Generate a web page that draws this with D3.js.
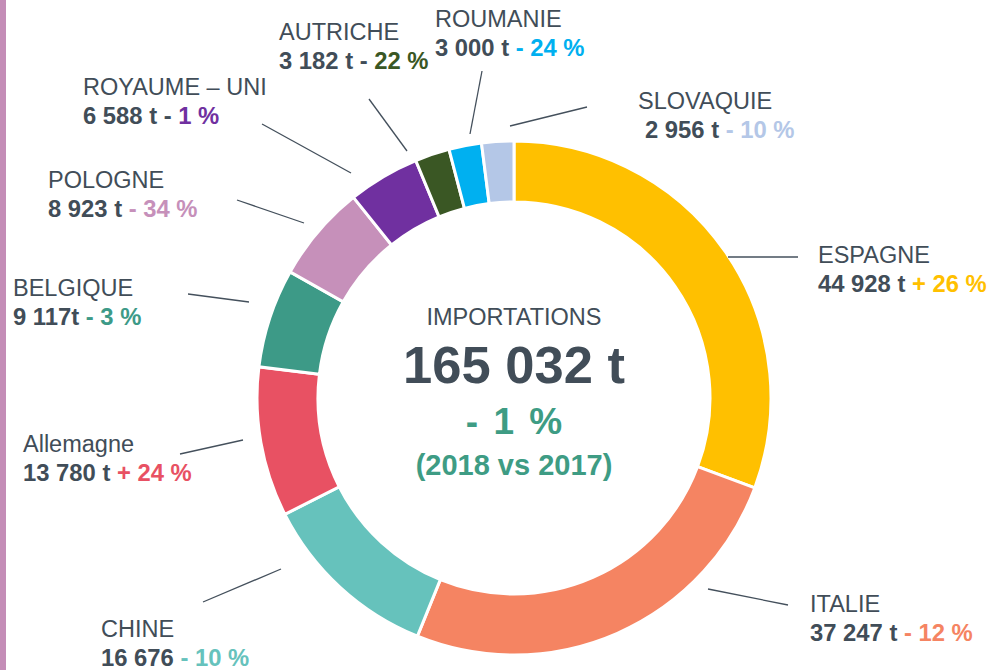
<!DOCTYPE html>
<html>
<head>
<meta charset="utf-8">
<script src="https://cdn.jsdelivr.net/npm/d3@7"></script>
<style>
  body { margin: 0; background: #fff; }
  svg { display: block; font-family: "Liberation Sans", Arial, sans-serif; }
</style>
</head>
<body>
<div id="chart"></div>
<script>
// données
const pays = ['ESPAGNE', 'ITALIE', 'CHINE', 'Allemagne', 'BELGIQUE', 'POLOGNE', 'ROYAUME – UNI', 'AUTRICHE', 'ROUMANIE', 'SLOVAQUIE'];
const tonnes = [44928, 37247, 16676, 13780, 9117, 8923, 6588, 3182, 3000, 2956];
const unites = [' t', ' t', '', ' t', 't', ' t', ' t', ' t', ' t', ' t'];
const evolutions = [26, -12, -10, 24, -3, -34, -1, -22, -24, -10];
const couleurs = ['#FFC000', '#F58462', '#66C2BC', '#E85163', '#3D9A87', '#C690BA', '#7030A0', '#3A5724', '#00B0F0', '#B4C7E7'];
const total = '165 032 t';
const totalEvol = '- 1 %';
const periode = '(2018 vs 2017)';

// placement des étiquettes : [x, y ligne nom, trait x1, y1, x2, y2, signe foncé]
const placement = [
  [818, 263, 728, 257, 798, 257, false],
  [810, 612, 708, 589, 788, 605, false],
  [101, 637, 203, 602, 281, 569, false],
  [23, 452, 180, 454, 243, 440, false],
  [13, 296, 188, 294, 249, 302, false],
  [48, 188, 237, 200, 304, 223, false],
  [83, 95, 262, 124, 351, 173, true],
  [279, 40, 369, 99, 407, 151, true],
  [435, 27, 482, 71, 470, 134, false],
  [638, 109, 587, 107, 510, 126, false]
];

const width = 990, height = 670;
const [cx, cy] = [514, 398];
const rOut = 257, rIn = 196;
const dark = '#414D58';

const fmt = d3.formatLocale({ decimal: ',', thousands: ' ', grouping: [3], currency: ['', ' €'] }).format(',d');

const svg = d3.select('#chart').append('svg')
  .attr('width', width)
  .attr('height', height);

// barre latérale
svg.append('rect')
  .attr('x', 0).attr('y', 0)
  .attr('width', 6).attr('height', height)
  .attr('fill', '#C48DB7');

const data = pays.map((p, i) => ({ nom: p, val: tonnes[i], unite: unites[i], evol: evolutions[i], col: couleurs[i], pos: placement[i] }));

const pie = d3.pie().sort(null).value(d => d.val);
const arc = d3.arc().innerRadius(rIn).outerRadius(rOut);

svg.append('g')
  .attr('transform', `translate(${cx},${cy})`)
  .selectAll('path')
  .data(pie(data))
  .join('path')
  .attr('d', arc)
  .attr('fill', d => d.data.col)
  .attr('stroke', '#fff')
  .attr('stroke-width', 3);

// traits de rappel
svg.append('g')
  .selectAll('line')
  .data(data)
  .join('line')
  .attr('x1', d => d.pos[2]).attr('y1', d => d.pos[3])
  .attr('x2', d => d.pos[4]).attr('y2', d => d.pos[5])
  .attr('stroke', '#44505C')
  .attr('stroke-width', 1.3);

// étiquettes
const lab = svg.append('g')
  .selectAll('g')
  .data(data)
  .join('g');

lab.append('text')
  .attr('x', d => d.pos[0])
  .attr('y', d => d.pos[1])
  .attr('fill', dark)
  .style('font-size', '23.5px')
  .text(d => d.nom);

const nums = lab.append('text')
  .attr('x', d => d.pos[0] + (d.nom === 'SLOVAQUIE' ? 7 : 0))
  .attr('y', d => d.pos[1] + 29)
  .style('font-size', '23.8px')
  .style('font-weight', 'bold');

nums.append('tspan')
  .attr('fill', dark)
  .text(d => fmt(d.val) + d.unite + ' ');

nums.append('tspan')
  .attr('fill', d => d.pos[6] ? dark : d.col)
  .text(d => (d.evol < 0 ? '-' : '+'));

nums.append('tspan')
  .attr('fill', d => d.col)
  .text(d => ' ' + Math.abs(d.evol) + ' %');

// centre
const centre = svg.append('g').attr('text-anchor', 'middle');
centre.append('text')
  .attr('x', cx).attr('y', 325)
  .attr('fill', dark)
  .style('font-size', '23.5px')
  .text('IMPORTATIONS');
centre.append('text')
  .attr('x', cx).attr('y', 383)
  .attr('fill', dark)
  .style('font-size', '52.5px')
  .style('font-weight', 'bold')
  .text(total);
centre.append('text')
  .attr('x', cx).attr('y', 434)
  .attr('fill', '#3E9C84')
  .style('font-size', '37px')
  .style('font-weight', 'bold')
  .style('word-spacing', '5px')
  .text(totalEvol);
centre.append('text')
  .attr('x', cx).attr('y', 475)
  .attr('fill', '#3E9C84')
  .style('font-size', '29px')
  .style('font-weight', 'bold')
  .text(periode);
</script>
</body>
</html>
